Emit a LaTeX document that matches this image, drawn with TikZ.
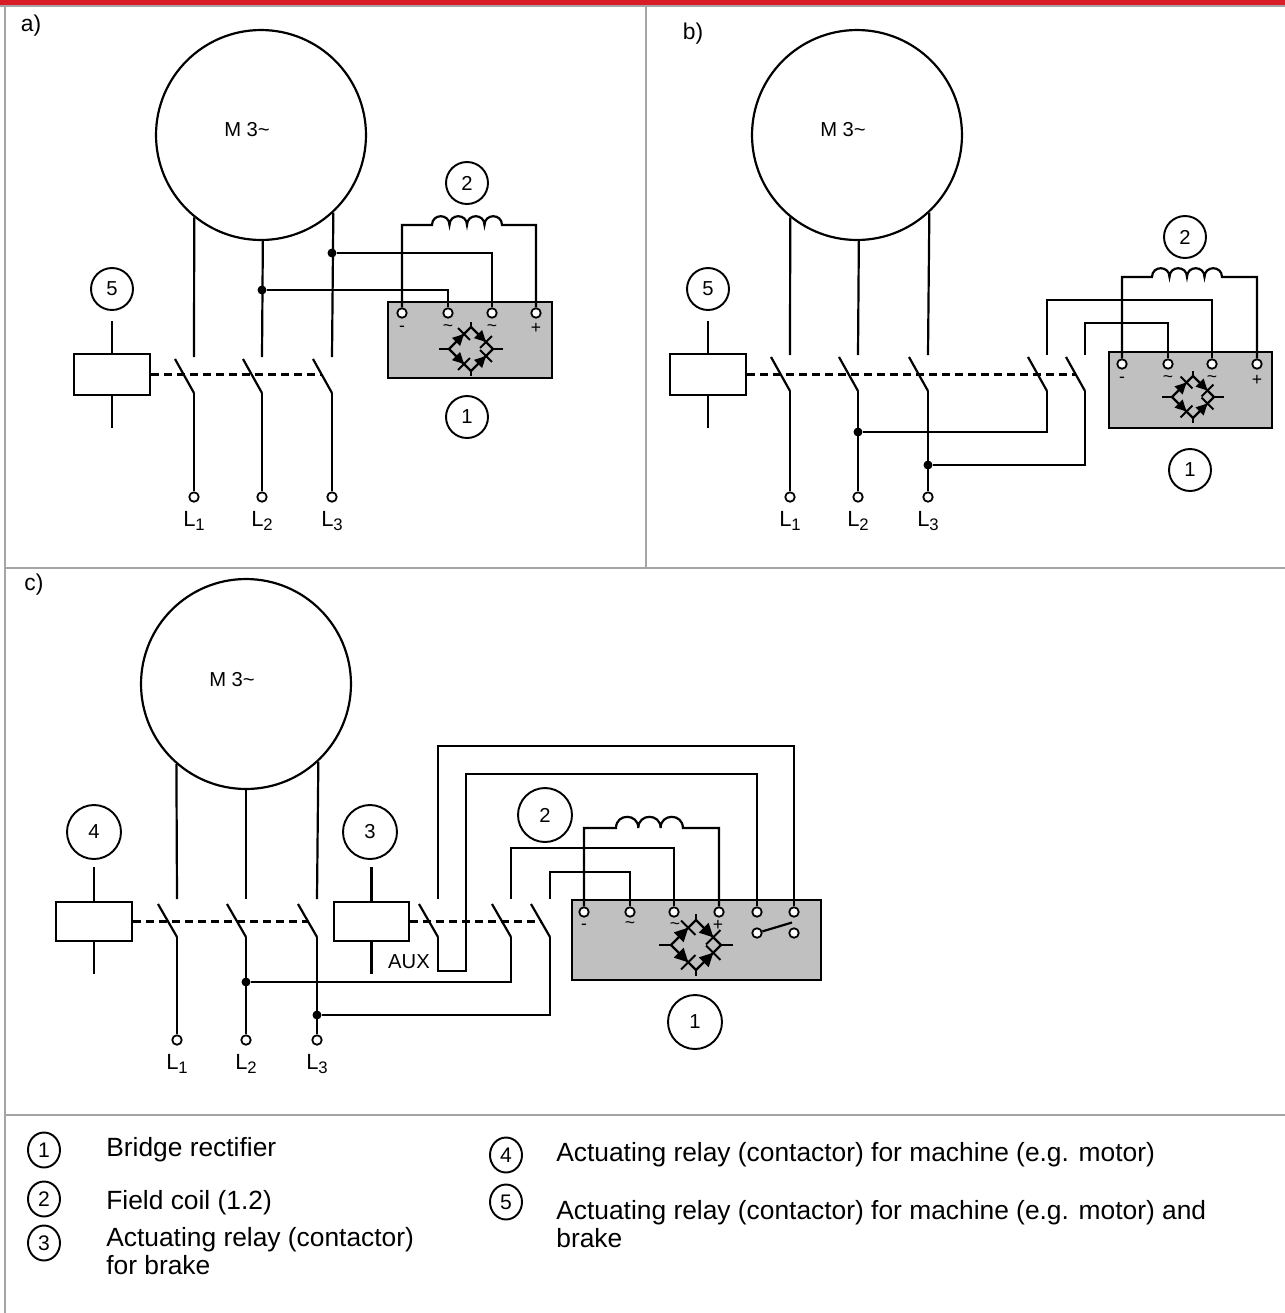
\documentclass[tikz,border=0pt]{standalone}
\usepackage{fontspec}
\setmainfont{Liberation Sans}
\usetikzlibrary{decorations.markings,shapes.geometric}
\definecolor{redbar}{RGB}{218,28,40}
\definecolor{framegray}{RGB}{165,165,165}
\definecolor{boxgray}{RGB}{192,192,192}
\newcommand\fdiag{\fontsize{11.5}{13}\selectfont}
\newcommand\flab{\fontsize{13}{15}\selectfont}
\newcommand\fL{\fontsize{12.5}{14}\selectfont}
\newcommand\fsub{\fontsize{9.5}{10}\selectfont}
\newcommand\fterm{\fontsize{10}{11}\selectfont}
\newcommand\fleg{\fontsize{15}{15.9}\selectfont}
\newcommand\fnumleg{\fontsize{12}{13}\selectfont}
\tikzset{
 wire/.style={line width=1.25pt},
 frameline/.style={draw=framegray, line width=1.2pt},
 motor/.style={circle, draw, line width=1.25pt, minimum size=4.2cm, inner sep=0pt},
 numc/.style={circle, draw, line width=1.1pt, minimum size=0.84cm, inner sep=0pt, font=\fdiag},
 numcbig/.style={numc, minimum size=1.08cm},
 legc/.style={ellipse, draw, line width=1.1pt, minimum width=0.64cm, minimum height=0.7cm, inner sep=0pt, font=\fnumleg},
 legt/.style={font=\fleg, align=left, inner sep=0pt, anchor=west},
 coilbox/.style={draw, line width=1.25pt, minimum width=1.52cm, minimum height=0.82cm, inner sep=0pt},
 rectbox/.style={draw, fill=boxgray, line width=1.25pt, inner sep=0pt},
 term/.style={circle, draw, fill=white, line width=1pt, minimum size=0.19cm, inner sep=0pt},
 jdot/.style={circle, fill=black, minimum size=0.18cm, inner sep=0pt},
 mech/.style={line width=1.25pt, dash pattern=on 4.6pt off 2.8pt},
 termlab/.style={font=\fterm, inner sep=0pt},
 diode/.style={postaction={decorate,decoration={markings,mark=at position 0.5 with {
   \fill[scale=#1] (-3.2pt,-3.3pt) -- (-3.2pt,3.3pt) -- (3.2pt,0pt) -- cycle;
   \draw[line width=1.1pt,scale=#1] (3.2pt,-4.8pt) -- (3.2pt,4.8pt);}}}},
}
\newcommand\mkswitch[5]{%
  \coordinate (#1T) at (#2,#3);
  \coordinate (#1A) at ({#2-19},#4);
  \coordinate (#1B) at (#2,#5);
  \draw[wire] (#1A) -- (#1B);}
\newcommand\mline[4]{%
  \pgfmathsetmacro\mang{-acos((#3-#2)/105)}%
  \draw[wire] (#1.\mang) -- (#4);}
\newcommand\Llab[3]{\node[font=\fL] (#1) at (#2) {L\raisebox{-2pt}{\fsub #3}};}
\newcommand\rectbridge[5]{%
 \begin{scope}[shift={(#1,#2)}]
  \coordinate (bW) at (-#3,0); \coordinate (bN) at (0,-#3);
  \coordinate (bE) at (#3,0); \coordinate (bS) at (0,#3);
  \draw[wire] (bW) -- (bN) -- (bE) -- (bS) -- cycle;
  \draw[wire] (bW) -- ++(-#4,0);
  \draw[wire] (bE) -- ++(#4,0);
  \draw[wire] (bN) -- ++(0,{-0.5*#4});
  \draw[wire] (bS) -- ++(0,{0.5*#4});
  \path[diode=#5] (bW) -- (bN);
  \path[diode=#5] (bN) -- (bE);
  \path[diode=#5] (bW) -- (bS);
  \path[diode=#5] (bS) -- (bE);
 \end{scope}}
\begin{document}
\begin{tikzpicture}[x=0.02cm,y=-0.02cm]
\useasboundingbox (0,0) rectangle (1285,1313);
\fill[white] (0,0) rectangle (1285,1313);
% frame
\fill[redbar] (0,0) rectangle (1285,5);
\draw[frameline] (0,6) -- (1285,6);
\draw[frameline] (5,6) -- (5,1313);
\draw[frameline] (646,6) -- (646,568);
\draw[frameline] (5,568) -- (1285,568);
\draw[frameline] (5,1115) -- (1285,1115);
\node[font=\flab] (labA) at (31,26) {a)};
\node[font=\flab] (labB) at (693,34) {b)};
\node[font=\flab] (labC) at (34,585) {c)};

% ================= panel a
\node[motor] (ma) at (261,135) {};
\node[font=\fdiag] (maT) at (247,130) {M 3\textasciitilde};
\mkswitch{a1}{194}{357}{359}{393}
\mkswitch{a2}{262}{357}{359}{393}
\mkswitch{a3}{332}{357}{359}{393}
\mline{ma}{261}{194}{a1T}
\mline{ma}{261}{262}{a2T}
\mline{ma}{261}{332}{a3T}
\node[term] (aL1) at (194,497) {};
\node[term] (aL2) at (262,497) {};
\node[term] (aL3) at (332,497) {};
\draw[wire] (a1B) -- (aL1);
\draw[wire] (a2B) -- (aL2);
\draw[wire] (a3B) -- (aL3);
\Llab{aLt1}{194,521}{1}
\Llab{aLt2}{262,521}{2}
\Llab{aLt3}{332,521}{3}
\node[coilbox] (a5box) at (112,374.5) {};
\draw[wire] (a5box.north) -- ++(0,-32);
\draw[wire] (a5box.south) -- ++(0,32);
\node[numc] (a5) at (112,289) {5};
\coordinate (aDash) at (321,374.5);
\draw[mech] (a5box.east) -- (aDash);
\node[jdot] (aJ3) at (332,253) {};
\node[jdot] (aJ2) at (262,290) {};
\node[rectbox, minimum width=3.28cm, minimum height=1.52cm] (aR) at (470,340) {};
\node[term] (aK1) at (402,313) {};
\node[term] (aK2) at (448,313) {};
\node[term] (aK3) at (492,313) {};
\node[term] (aK4) at (536,313) {};
\node[termlab] (aKl1) at (402,329) {-};
\node[termlab] (aKl2) at (448,328) {\textasciitilde};
\node[termlab] (aKl3) at (492,328) {\textasciitilde};
\node[termlab] (aKl4) at (536,328) {+};
\draw[wire] (aJ3) -| (aK3);
\draw[wire] (aJ2) -| (aK2);
\coordinate (aCoilL) at (432,225);
\draw[wire] (aK1) |- (aCoilL)
  .. controls +(0,-11.7) and +(0,-11.7) .. ++(17.5,0)
  .. controls +(0,-11.7) and +(0,-11.7) .. ++(17.5,0)
  .. controls +(0,-11.7) and +(0,-11.7) .. ++(17.5,0)
  .. controls +(0,-11.7) and +(0,-11.7) .. ++(17.5,0) -| (aK4);
\rectbridge{471}{349}{22}{10}{1}
\node[numc] (a2) at (467,183) {2};
\node[numc] (a1) at (467,417) {1};

% ================= panel b
\node[motor] (mb) at (857,135) {};
\node[font=\fdiag] (mbT) at (843,130) {M 3\textasciitilde};
\mkswitch{b1}{790}{355}{357}{391}
\mkswitch{b2}{858}{355}{357}{391}
\mkswitch{b3}{928}{355}{357}{391}
\mkswitch{b4}{1047}{355}{357}{391}
\mkswitch{b5}{1085}{355}{357}{391}
\mline{mb}{857}{790}{b1T}
\mline{mb}{857}{858}{b2T}
\mline{mb}{857}{928}{b3T}
\node[term] (bL1) at (790,497) {};
\node[term] (bL2) at (858,497) {};
\node[term] (bL3) at (928,497) {};
\draw[wire] (b1B) -- (bL1);
\draw[wire] (b2B) -- (bL2);
\draw[wire] (b3B) -- (bL3);
\Llab{bLt1}{790,521}{1}
\Llab{bLt2}{858,521}{2}
\Llab{bLt3}{928,521}{3}
\node[coilbox] (b5box) at (708,374.5) {};
\draw[wire] (b5box.north) -- ++(0,-32);
\draw[wire] (b5box.south) -- ++(0,32);
\node[numc] (b5) at (708,289) {5};
\coordinate (bDash) at (1076,374.5);
\draw[mech] (b5box.east) -- (bDash);
\node[jdot] (bJ2) at (858,432) {};
\node[jdot] (bJ3) at (928,465) {};
\draw[wire] (b4B) |- (bJ2);
\draw[wire] (b5B) |- (bJ3);
\node[rectbox, minimum width=3.26cm, minimum height=1.52cm] (bR) at (1190.5,390) {};
\node[term] (bK1) at (1122,364) {};
\node[term] (bK2) at (1168,364) {};
\node[term] (bK3) at (1212,364) {};
\node[term] (bK4) at (1257,364) {};
\node[termlab] (bKl1) at (1122,380) {-};
\node[termlab] (bKl2) at (1168,379) {\textasciitilde};
\node[termlab] (bKl3) at (1212,379) {\textasciitilde};
\node[termlab] (bKl4) at (1257,380) {+};
\draw[wire] (b4T) -- (b4T |- 0,300) -| (bK3);
\draw[wire] (b5T) -- (b5T |- 0,323) -| (bK2);
\coordinate (bCoilL) at (1152,277);
\draw[wire] (bK1) |- (bCoilL)
  .. controls +(0,-11.7) and +(0,-11.7) .. ++(17.5,0)
  .. controls +(0,-11.7) and +(0,-11.7) .. ++(17.5,0)
  .. controls +(0,-11.7) and +(0,-11.7) .. ++(17.5,0)
  .. controls +(0,-11.7) and +(0,-11.7) .. ++(17.5,0) -| (bK4);
\rectbridge{1193}{397}{21}{10}{1}
\node[numc] (b2) at (1185,237) {2};
\node[numc] (b1) at (1190,470) {1};

% ================= panel c
\node[motor] (mc) at (246,684) {};
\node[font=\fdiag] (mcT) at (232,680) {M 3\textasciitilde};
\mkswitch{c1}{177}{899}{904}{937}
\mkswitch{c2}{246}{899}{904}{937}
\mkswitch{c3}{317}{899}{904}{937}
\mkswitch{cA}{438}{899}{904}{937}
\mkswitch{cB}{511}{899}{904}{937}
\mkswitch{cC}{550}{899}{904}{937}
\mline{mc}{246}{177}{c1T}
\mline{mc}{246}{246}{c2T}
\mline{mc}{246}{317}{c3T}
\node[term] (cL1) at (177,1040) {};
\node[term] (cL2) at (246,1040) {};
\node[term] (cL3) at (317,1040) {};
\draw[wire] (c1B) -- (cL1);
\draw[wire] (c2B) -- (cL2);
\draw[wire] (c3B) -- (cL3);
\Llab{cLt1}{177,1064}{1}
\Llab{cLt2}{246,1064}{2}
\Llab{cLt3}{317,1064}{3}
\node[coilbox, minimum height=0.78cm] (c4box) at (94,921.5) {};
\draw[wire] (c4box.north) -- ++(0,-34);
\draw[wire] (c4box.south) -- ++(0,32);
\node[numcbig] (c4) at (94,832) {4};
\coordinate (cDash1) at (308,921.5);
\draw[mech] (c4box.east) -- (cDash1);
\node[coilbox, minimum width=1.5cm, minimum height=0.78cm] (c3box) at (371.5,921.5) {};
\draw[wire] (c3box.north) -- ++(0,-34);
\draw[wire] (c3box.south) -- ++(0,32);
\node[numcbig] (c3n) at (370,832) {3};
\node[font=\fdiag] (cAux) at (409,962) {AUX};
\coordinate (cDash2) at (542,921.5);
\draw[mech] (c3box.east) -- (cDash2);
\node[jdot] (cJ2) at (246,982) {};
\node[jdot] (cJ3) at (317,1015) {};
\node[rectbox, minimum width=4.98cm, minimum height=1.6cm] (cR) at (696.5,940) {};
\node[term] (cK1) at (584,912) {};
\node[term] (cK2) at (630,912) {};
\node[term] (cK3) at (674,912) {};
\node[term] (cK4) at (719,912) {};
\node[term] (cK5) at (757,912) {};
\node[term] (cK6) at (794,912) {};
\node[term] (cK7) at (757,933) {};
\node[term] (cK8) at (794,933) {};
\coordinate (cSwE) at (792,922.5);
\draw[wire] (cK7) -- (cSwE);
\node[termlab] (cKl1) at (584,927) {-};
\node[termlab] (cKl2) at (630,925) {\textasciitilde};
\node[termlab] (cKl3) at (675,926) {\textasciitilde};
\node[termlab] (cKl4) at (718,925) {+};
\draw[wire] (cAT) -- (cAT |- 0,746) -| (cK6);
\coordinate (cAuxR) at (466,971);
\coordinate (cAuxT) at (466,774);
\draw[wire] (cAB) |- (cAuxR) -- (cAuxT) -| (cK5);
\draw[wire] (cBT) -- (cBT |- 0,848) -| (cK3);
\draw[wire] (cBB) |- (cJ2);
\draw[wire] (cCT) -- (cCT |- 0,872) -| (cK2);
\draw[wire] (cCB) |- (cJ3);
\coordinate (cCoilL) at (616,828);
\draw[wire] (cK1) |- (cCoilL)
  .. controls +(0,-14.9) and +(0,-14.9) .. ++(22.3,0)
  .. controls +(0,-14.9) and +(0,-14.9) .. ++(22.3,0)
  .. controls +(0,-14.9) and +(0,-14.9) .. ++(22.3,0) -| (cK4);
\rectbridge{696}{945}{25}{12}{1.2}
\node[numcbig] (c2n) at (545,815) {2};
\node[numcbig] (c1n) at (695,1022) {1};

% ================= legend
\node[legc] (g1) at (44,1150) {1};
\node[legt] (g1t) at (106,1150) {Bridge rectifier};
\node[legc] (g2) at (44,1199) {2};
\node[legt] (g2t) at (106,1203) {Field coil (1.2)};
\node[legc] (g3) at (44,1243) {3};
\node[legt] (g3t) at (106,1251) {Actuating relay (contactor)\\for brake};
\node[legc] (g4) at (506,1155) {4};
\node[legt] (g4t) at (556,1155) {Actuating relay (contactor) for machine (e.g. motor)};
\node[legc] (g5) at (506,1202) {5};
\node[legt] (g5t) at (556,1224) {Actuating relay (contactor) for machine (e.g. motor) and\\brake};
\end{tikzpicture}
\end{document}
